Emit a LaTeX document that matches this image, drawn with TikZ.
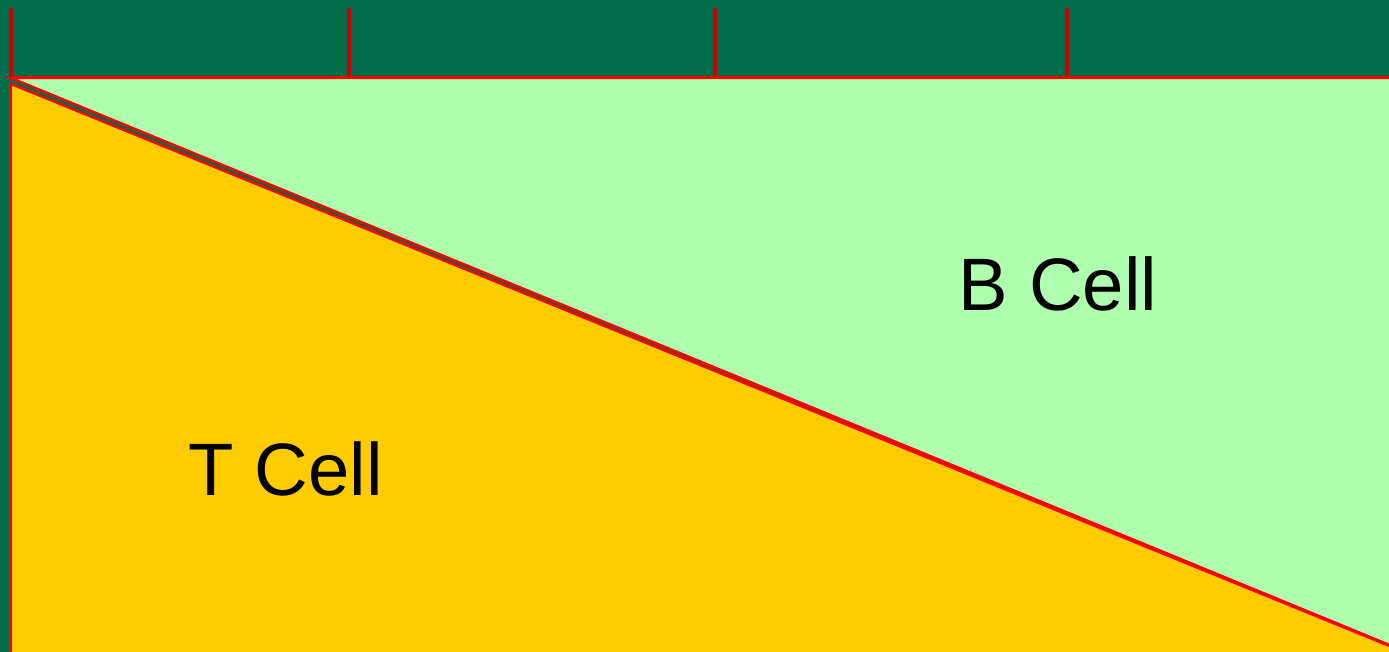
\documentclass[tikz,border=0pt]{standalone}
\usepackage{fontspec}
\setmainfont{Liberation Sans}
\usepackage{xcolor}
\definecolor{cbg}{HTML}{006B49}
\definecolor{cbcell}{HTML}{AEFFAE}
\definecolor{ctcell}{HTML}{FFCC00}
\definecolor{cline}{HTML}{FF0000}
\definecolor{ctick}{HTML}{CC0000}
\tikzset{
  cellzone/.style={draw=cline, line width=0.05cm, line join=miter},
  tick/.style={draw=ctick, line width=0.07cm},
  celllabel/.style={font=\fontsize{42.3}{50}\selectfont, text=black, inner sep=0pt},
}

\begin{document}
\begin{tikzpicture}[x=0.02cm, y=-0.02cm]
  % background and margins
  \fill[cbg] (0,0) rectangle (1389,652);
  \useasboundingbox (0,0) rectangle (1389,652);
  % the two regions
  \fill[cellzone, fill=ctcell] (11,84) -- (1392,647) -- (1392,655) -- (11,655) -- cycle;
  \fill[cellzone, fill=cbcell] (11,78) -- (1392,78) -- (1392,646) -- cycle;
  % top band
  \draw[cline, line width=0.05cm] (10,77.5) -- (1392,77.5);
  \foreach \x in {11,349,715,1067}
    \draw[tick] (\x,8) -- (\x,77);
  % labels
  \node[celllabel] (bcell) at (1058,284) {B Cell};
  \node[celllabel] (tcell) at (286,469) {T Cell};
\end{tikzpicture}
\end{document}
